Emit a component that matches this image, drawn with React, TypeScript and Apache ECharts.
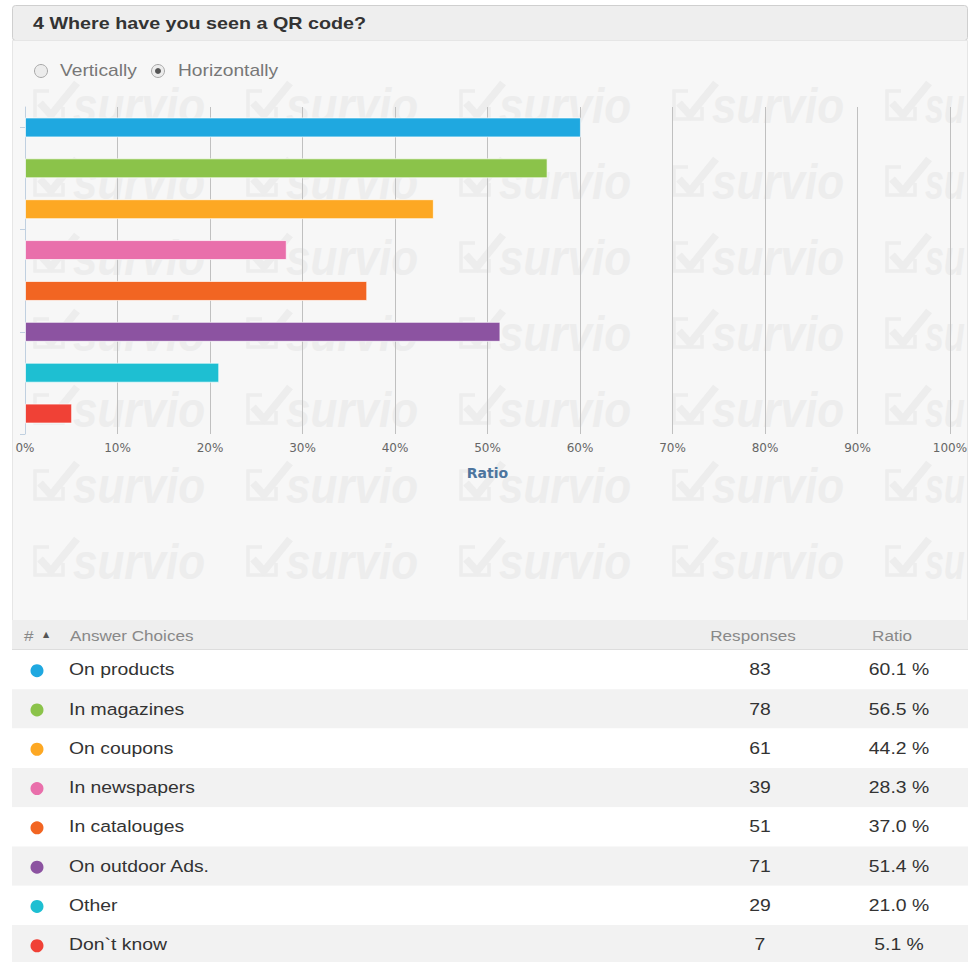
import React, { useEffect, useRef } from "react";
import * as echarts from "echarts";

const questionTitle = "4 Where have you seen a QR code?";
const radioLabels = ["Vertically", "Horizontally"];
const categories = [
  "On products",
  "In magazines",
  "On coupons",
  "In newspapers",
  "In catalouges",
  "On outdoor Ads.",
  "Other",
  "Don`t know",
];
const responses = [83, 78, 61, 39, 51, 71, 29, 7];
const ratios = [60.1, 56.5, 44.2, 28.3, 37.0, 51.4, 21.0, 5.1];
const colors = ["#1fa8e0", "#8bc34a", "#fda823", "#e96fab", "#f26522", "#8c53a1", "#1ebfd2", "#f04136"];
const axisTitle = "Ratio";
const tableHeaders = ["#", "Answer Choices", "Responses", "Ratio"];
const watermarkWord = "survio";
const watermarkEdgeWord = "su";

const SANS = '"Liberation Sans", Arial, sans-serif';
const VERD = '"DejaVu Sans", Verdana, sans-serif';
const SX = 1.14;

const PANEL = { x: 12.5, y: 40.5, w: 955, h: 580 };

function watermarkTiles(): any[] {
  const cols = [0, 1, 2, 3, 4].map((k) => 33 + 213 * k);
  const rows = [0, 1, 2, 3, 4, 5, 6].map((k) => 121 + 76 * k);
  const c = "#ededed";
  const out: any[] = [];
  rows.forEach((by) => {
    cols.forEach((lx, ci) => {
      const edge = ci === cols.length - 1;
      out.push({
        type: "group",
        x: lx,
        y: by,
        z: -18,
        silent: true,
        children: [
          {
            type: "polyline",
            z: -18,
            shape: { points: [[16, -30], [2, -30], [2, -2], [30, -2], [30, -14]] },
            style: { stroke: c, lineWidth: 3.5, fill: null },
          },
          {
            type: "polyline",
            z: -18,
            shape: { points: [[7, -18], [18, -6], [44, -38]] },
            style: { stroke: c, lineWidth: 7.5, fill: null, lineJoin: "miter" },
          },
          {
            type: "text",
            z: -18,
            x: 40,
            y: -16,
            scaleX: edge ? 0.68 : 0.88,
            style: {
              text: edge ? watermarkEdgeWord : watermarkWord,
              fontFamily: SANS,
              fontSize: 50,
              fontWeight: "bold",
              fontStyle: "italic",
              fill: c,
              verticalAlign: "middle",
            },
          },
        ],
      });
    });
  });
  return out;
}

function buildGraphics() {
  const els: any[] = [];
  // header bar
  els.push({
    type: "rect",
    z: -20,
    shape: { x: 12.5, y: 5.5, width: 955, height: 35, r: 3 },
    style: { fill: "#eeeeee", stroke: "#cfcfcf", lineWidth: 1 },
  });
  els.push({
    type: "text",
    z: -19,
    x: 33,
    y: 23,
    scaleX: 1.16,
    style: { text: questionTitle, fontFamily: SANS, fontWeight: "bold", fontSize: 17, fill: "#333333", verticalAlign: "middle" },
  });
  // panel
  els.push({
    type: "rect",
    z: -20,
    shape: { x: PANEL.x, y: PANEL.y, width: PANEL.w, height: PANEL.h },
    style: { fill: "#f7f7f7", stroke: "#e6e6e6", lineWidth: 1 },
  });
  // watermark
  els.push(...watermarkTiles());
  // radio buttons
  const radioX = [41, 158];
  const textX = [60, 178];
  radioLabels.forEach((lab, i) => {
    els.push({
      type: "circle",
      z: -10,
      shape: { cx: radioX[i], cy: 71, r: 6.5 },
      style: { fill: "#ececec", stroke: "#a8a8a8", lineWidth: 1 },
    });
    if (i === 1) {
      els.push({
        type: "circle",
        z: -10,
        shape: { cx: radioX[i], cy: 71, r: 3 },
        style: { fill: "#555555" },
      });
    }
    els.push({
      type: "text",
      z: -10,
      x: textX[i],
      y: 71,
      scaleX: 1.2,
      style: { text: lab, fontFamily: SANS, fontSize: 16, fill: "#777777", verticalAlign: "middle" },
    });
  });

  // table
  const tLeft = 12;
  const tWidth = 956;
  const headTop = 620;
  const headH = 29;
  const rowH = 39.3;
  els.push({
    type: "rect",
    z: 5,
    shape: { x: tLeft, y: headTop, width: tWidth, height: headH },
    style: { fill: "#eeeeee" },
  });
  els.push({
    type: "line",
    z: 6,
    shape: { x1: tLeft, y1: headTop + headH + 0.5, x2: tLeft + tWidth, y2: headTop + headH + 0.5 },
    style: { stroke: "#dddddd", lineWidth: 1 },
  });
  const headY = headTop + headH / 2 + 0.5;
  els.push({
    type: "text",
    z: 6,
    x: 24,
    y: headY,
    scaleX: SX,
    style: { text: tableHeaders[0], fontFamily: SANS, fontSize: 15, fill: "#888888", verticalAlign: "middle" },
  });
  els.push({
    type: "text",
    z: 6,
    x: 46,
    y: headY - 1,
    style: { text: "▲", fontFamily: VERD, fontSize: 8, fill: "#555555", align: "center", verticalAlign: "middle" },
  });
  els.push({
    type: "text",
    z: 6,
    x: 70,
    y: headY,
    scaleX: SX,
    style: { text: tableHeaders[1], fontFamily: SANS, fontSize: 15, fill: "#888888", verticalAlign: "middle" },
  });
  els.push({
    type: "text",
    z: 6,
    x: 753,
    y: headY,
    scaleX: SX,
    style: { text: tableHeaders[2], fontFamily: SANS, fontSize: 15, fill: "#888888", align: "center", verticalAlign: "middle" },
  });
  els.push({
    type: "text",
    z: 6,
    x: 892,
    y: headY,
    scaleX: SX,
    style: { text: tableHeaders[3], fontFamily: SANS, fontSize: 15, fill: "#888888", align: "center", verticalAlign: "middle" },
  });

  categories.forEach((cat, i) => {
    const top = headTop + headH + 1 + i * rowH;
    const cy = top + rowH / 2;
    els.push({
      type: "rect",
      z: 5,
      shape: { x: tLeft, y: top, width: tWidth, height: rowH },
      style: { fill: i % 2 === 0 ? "#ffffff" : "#f2f2f2" },
    });
    els.push({
      type: "circle",
      z: 6,
      shape: { cx: 37, cy: cy + 1, r: 6.5 },
      style: { fill: colors[i] },
    });
    els.push({
      type: "text",
      z: 6,
      x: 69,
      y: cy,
      scaleX: SX,
      style: { text: cat, fontFamily: SANS, fontSize: 17, fill: "#333333", verticalAlign: "middle" },
    });
    els.push({
      type: "text",
      z: 6,
      x: 760,
      y: cy,
      scaleX: SX,
      style: { text: String(responses[i]), fontFamily: SANS, fontSize: 17, fill: "#333333", align: "center", verticalAlign: "middle" },
    });
    els.push({
      type: "text",
      z: 6,
      x: 899,
      y: cy,
      scaleX: SX,
      style: { text: ratios[i].toFixed(1) + " %", fontFamily: SANS, fontSize: 17, fill: "#333333", align: "center", verticalAlign: "middle" },
    });
  });
  return els;
}

function buildOption(): any {
  return {
    animation: false,
    backgroundColor: "#ffffff",
    graphic: { elements: buildGraphics() },
    grid: { left: 25, right: 26, top: 107, height: 327, containLabel: false },
    xAxis: {
      type: "value",
      min: 0,
      max: 100,
      interval: 10,
      name: axisTitle,
      nameLocation: "middle",
      nameGap: 32,
      nameTextStyle: { fontFamily: VERD, fontWeight: "bold", fontSize: 14, color: "#4d759e" },
      axisLabel: { formatter: "{value}%", color: "#666666", fontSize: 12, fontFamily: VERD, margin: 8 },
      axisLine: { show: false },
      axisTick: { show: false },
      splitLine: { show: true, lineStyle: { color: "#c0c0c0", width: 1 } },
    },
    yAxis: [
      {
        type: "category",
        data: categories,
        inverse: true,
        axisLine: { show: true, lineStyle: { color: "#c0d0e0", width: 1 } },
        axisTick: { show: false },
        axisLabel: { show: false },
        splitLine: { show: false },
      },
      {
        type: "value",
        min: 0,
        max: 8,
        inverse: true,
        position: "left",
        axisLine: { show: false },
        axisLabel: { show: false },
        splitLine: { show: false },
        axisTick: { show: true, customValues: [0.5, 3, 5.5, 8], length: 5, lineStyle: { color: "#c0d0e0" } },
      },
    ],
    series: [
      {
        type: "bar",
        yAxisIndex: 0,
        barWidth: 20,
        silent: true,
        itemStyle: { borderColor: "rgba(255,255,255,0.7)", borderWidth: 1 },
        data: ratios.map((v, i) => ({ value: v, itemStyle: { color: colors[i] } })),
      },
    ],
  };
}

export default function App() {
  const ref = useRef<HTMLDivElement>(null);
  useEffect(() => {
    if (!ref.current) return;
    const chart = echarts.init(ref.current, null, { renderer: "svg" });
    chart.setOption(buildOption());
    return () => chart.dispose();
  }, []);
  return (
    <div
      ref={ref}
      style={{ position: "absolute", left: 0, top: 0, width: 976, height: 962, background: "#ffffff" }}
    />
  );
}
